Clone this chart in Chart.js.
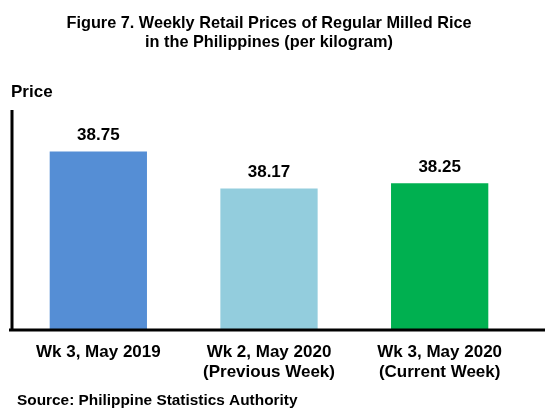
<html>
<head>
    <meta charset="utf-8">
    <title>Weekly Retail Prices of Regular Milled Rice</title>
    <script src="https://cdn.jsdelivr.net/npm/chart.js@4.4.0/dist/chart.umd.min.js"></script>
    <style type="text/css">
        body { margin: 0; background: #fff; }
        .chart { width: 545px; height: 408px; position: relative; }
    </style>
</head>
<body>
<div class="chart">
    <canvas id="barChart"></canvas>
</div>

<script>
    // chart values
    var categories = [
        ['Wk 3, May 2019'],
        ['Wk 2, May 2020', '(Previous Week)'],
        ['Wk 3, May 2020', '(Current Week)']
    ];
    var prices = [38.75, 38.17, 38.25];
    var barColours = ['#558ed5', '#93cddd', '#00b050'];

    var titleLines = ['Figure 7. Weekly Retail Prices of Regular Milled Rice', 'in the Philippines (per kilogram)'];
    var axisTitle = 'Price';
    var sourceText = 'Source: Philippine Statistics Authority';

    var fontFamily = '"Liberation Sans", Arial, sans-serif';

    // titles, value labels and the two black axis lines
    var decorPlugin = {
        id: 'decor',
        afterDraw: function(chart) {
            var ctx = chart.ctx;
            var area = chart.chartArea;
            ctx.save();
            ctx.fillStyle = '#000';
            ctx.textAlign = 'center';
            ctx.textBaseline = 'alphabetic';
            ctx.font = 'bold 16.3px ' + fontFamily;
            ctx.fillText(titleLines[0], 269, 28);
            ctx.fillText(titleLines[1], 269, 47);

            ctx.textAlign = 'left';
            ctx.font = 'bold 17px ' + fontFamily;
            ctx.fillText(axisTitle, 11, 97);

            ctx.font = 'bold 15.4px ' + fontFamily;
            ctx.fillText(sourceText, 17, 405);

            // value labels above bars
            ctx.textAlign = 'center';
            ctx.font = 'bold 17px ' + fontFamily;
            chart.getDatasetMeta(0).data.forEach(function(bar, i) {
                ctx.fillText(prices[i].toFixed(2), bar.x, bar.y - 11);
            });

            // axes
            ctx.strokeStyle = '#000';
            ctx.lineWidth = 3;
            ctx.beginPath();
            ctx.moveTo(12, area.top);
            ctx.lineTo(12, area.bottom);
            ctx.moveTo(9, area.bottom);
            ctx.lineTo(545, area.bottom);
            ctx.stroke();
            ctx.restore();
        }
    };

    var ctx = document.getElementById('barChart').getContext('2d');
    var priceChart = new Chart(ctx, {
        type: 'bar',
        data: {
            labels: categories,
            datasets: [{
                data: prices,
                backgroundColor: barColours,
                borderWidth: 0,
                barPercentage: 0.57,
                categoryPercentage: 1
            }]
        },
        options: {
            responsive: true,
            maintainAspectRatio: false,
            animation: false,
            layout: {
                padding: { left: 13, right: 20, top: 110, bottom: 0 }
            },
            plugins: {
                legend: { display: false },
                title: { display: false },
                tooltip: { enabled: false }
            },
            scales: {
                x: {
                    grid: { display: false, drawTicks: false },
                    border: { display: false },
                    afterFit: function(scale) { scale.height = 78; },
                    ticks: {
                        color: '#000',
                        padding: 13,
                        maxRotation: 0,
                        font: { family: fontFamily, size: 17, weight: 'bold', lineHeight: 1.15 }
                    }
                },
                y: {
                    display: false,
                    min: 35.95,
                    max: 39.4
                }
            }
        },
        plugins: [decorPlugin]
    });
</script>
</body>
</html>
